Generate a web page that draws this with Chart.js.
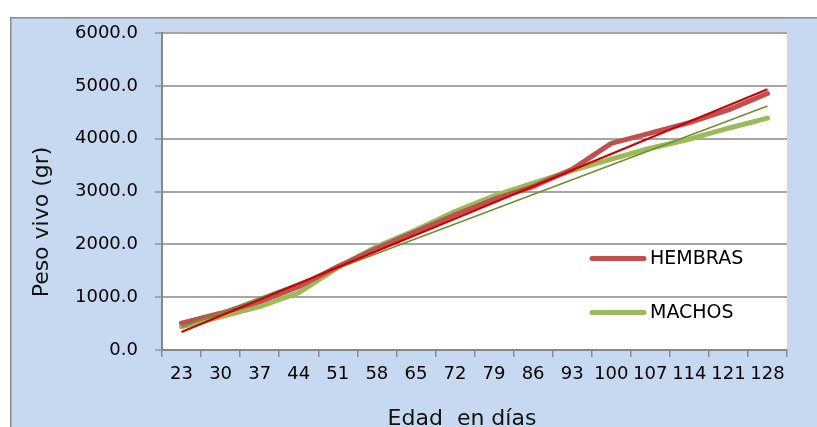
<!DOCTYPE html>
<html><head><meta charset="utf-8">
<script src="https://cdn.jsdelivr.net/npm/chart.js@4.4.1/dist/chart.umd.min.js"></script>
<style>html,body{margin:0;padding:0;background:#fff;overflow:hidden}#wrap{width:817px;height:427px;position:relative}</style>
</head><body><div id="wrap"><canvas id="c" width="817" height="427"></canvas></div>
<script>
// ---- data ----
const categories = ['23','30','37','44','51','58','65','72','79','86','93','100','107','114','121','128'];
const hembras = [510, 695, 915, 1200, 1580, 1925, 2240, 2557, 2854, 3093, 3420, 3910, 4104, 4305, 4545, 4855];
const machos  = [440, 630, 820, 1085, 1560, 1960, 2270, 2620, 2917, 3157, 3396, 3611, 3819, 3990, 4198, 4388];
// linear trend lines (start / end values)
const hembrasTrend = [340, null, null, null, null, null, null, null, null, null, null, null, null, null, null, 4935];
const machosTrend  = [430, null, null, null, null, null, null, null, null, null, null, null, null, null, null, 4620];
const yMin = 0, yMax = 6000, yStep = 1000;
const seriesLabels = ['HEMBRAS', 'MACHOS'];
const xTitle = 'Edad  en días';
const yTitle = 'Peso vivo (gr)';

const FONT = "'DejaVu Sans', sans-serif";

const framePlugin = {
  id: 'frame',
  beforeDraw(chart) {
    const ctx = chart.ctx, a = chart.chartArea;
    ctx.save();
    ctx.fillStyle = '#ffffff';
    ctx.fillRect(0, 0, chart.width, chart.height);
    ctx.fillStyle = '#c6d9f1';
    ctx.fillRect(10, 17, chart.width - 10, chart.height - 17);
    ctx.strokeStyle = '#8a8a8a';
    ctx.lineWidth = 1.5;
    ctx.beginPath();
    ctx.moveTo(10.75, chart.height);
    ctx.lineTo(10.75, 17.75);
    ctx.lineTo(chart.width, 17.75);
    ctx.stroke();
    ctx.fillStyle = '#ffffff';
    ctx.fillRect(a.left, a.top, a.right - a.left, a.bottom - a.top);
    ctx.restore();
  },
  afterDraw(chart) {
    const ctx = chart.ctx;
    ctx.save();
    // axis titles
    ctx.fillStyle = '#111';
    ctx.font = '22px ' + FONT;
    ctx.textAlign = 'center';
    ctx.textBaseline = 'alphabetic';
    ctx.fillText(xTitle, 462, 425);
    ctx.translate(42, 222);
    ctx.rotate(-Math.PI / 2);
    ctx.textBaseline = 'middle';
    ctx.fillText(yTitle, 0, 0);
    ctx.restore();
    // legend
    ctx.save();
    const items = [2, 3];
    const ys = [258.5, 312.5];
    items.forEach((di, k) => {
      const ds = chart.data.datasets[di];
      ctx.strokeStyle = ds.borderColor;
      ctx.lineWidth = 5;
      ctx.lineCap = 'round';
      ctx.beginPath();
      ctx.moveTo(592, ys[k]);
      ctx.lineTo(644, ys[k]);
      ctx.stroke();
      ctx.fillStyle = '#000';
      ctx.font = '19px ' + FONT;
      ctx.textAlign = 'left';
      ctx.textBaseline = 'middle';
      ctx.fillText(ds.label, 650, ys[k] + 1);
    });
    ctx.restore();
  }
};

new Chart(document.getElementById('c'), {
  type: 'line',
  data: {
    labels: categories,
    datasets: [
      { label: 'trend H', data: hembrasTrend, borderColor: '#cc0000', borderWidth: 2, spanGaps: true, pointRadius: 0, tension: 0 },
      { label: 'trend M', data: machosTrend, borderColor: '#6f8f33', borderWidth: 1.6, spanGaps: true, pointRadius: 0, tension: 0 },
      { label: seriesLabels[0], data: hembras, borderColor: '#c0504d', borderWidth: 5, pointRadius: 0, tension: 0, borderCapStyle: 'round', borderJoinStyle: 'round' },
      { label: seriesLabels[1], data: machos, borderColor: '#9bbb59', borderWidth: 5, pointRadius: 0, tension: 0, borderCapStyle: 'round', borderJoinStyle: 'round' }
    ]
  },
  options: {
    responsive: false,
    animation: false,
    devicePixelRatio: 1,
    layout: { padding: { left: 0, right: 30, top: 33, bottom: 0 } },
    plugins: { legend: { display: false }, tooltip: { enabled: false } },
    scales: {
      x: {
        type: 'category',
        offset: true,
        grid: { display: true, offset: true, drawOnChartArea: false, tickLength: 7, color: '#888888', lineWidth: 1.5 },
        border: { display: true, color: '#888888', width: 2 },
        ticks: { autoSkip: false, maxRotation: 0, minRotation: 0, padding: 7, color: '#000', font: { family: FONT, size: 18 } },
        afterFit(s) { s.height = 77; }
      },
      y: {
        min: yMin, max: yMax,
        ticks: { stepSize: yStep, padding: 17, color: '#000', font: { family: FONT, size: 18 }, callback: v => Number(v).toFixed(1) },
        grid: { color: '#a5a5a5', lineWidth: 2, tickLength: 7 },
        border: { display: true, color: '#888888', width: 2 },
        afterFit(s) { s.width = 162; }
      }
    }
  },
  plugins: [framePlugin]
});
</script>
</body></html>
